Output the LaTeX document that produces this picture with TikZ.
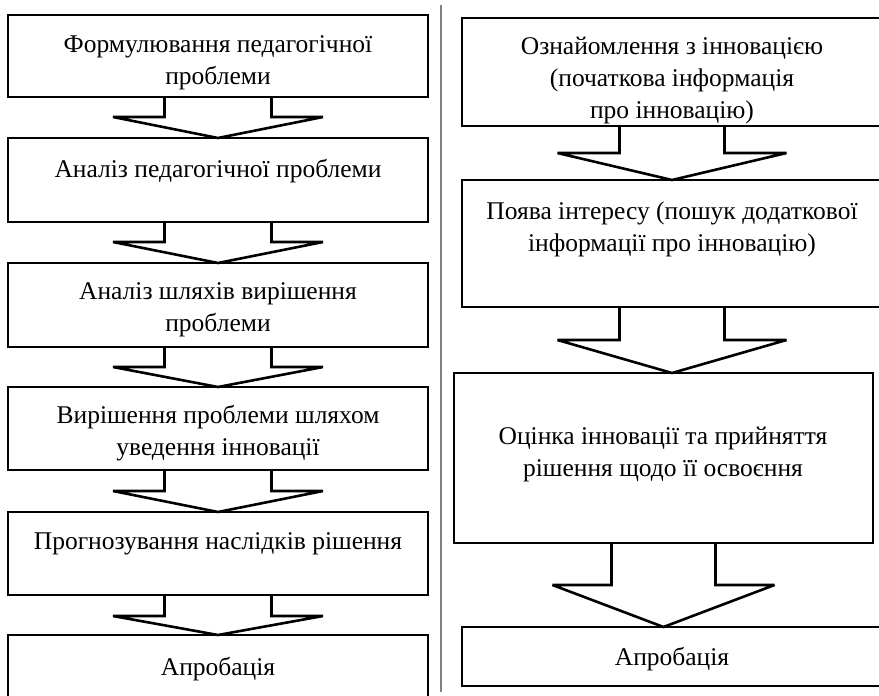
\documentclass[tikz,border=0pt]{standalone}
\usepackage{fontspec}
\setmainfont{Liberation Serif}
\usetikzlibrary{calc}
\tikzset{
  box/.style={draw=black, line width=2.6pt, rectangle, inner sep=0pt, outer sep=0pt, minimum width=420pt},
  arr/.style={draw=black, line width=2.6pt, line join=miter, miter limit=4},
  txt/.style={align=center, inner sep=0pt, font=\fontsize{25.5pt}{32pt}\selectfont},
  divider/.style={draw=black!50, line width=1.5pt}
}
\newcommand{\blockarrow}[5]{%
  \draw[arr] ($(#1.south)+(-#3,0)$) -- ++(0,#5) -- ++(-#4,0)
    -- (#1.south |- #2.north) -- ($(#1.south)+(#3+#4,#5)$) -- ++(-#4,0) -- ($(#1.south)+(#3,0)$);}
\begin{document}
\begin{tikzpicture}[x=1pt,y=-1pt]
\path[use as bounding box, clip] (0,0) rectangle (879,696);
\fill[white] (0,0) rectangle (879,696);
% divider
\coordinate (dtop) at (441,5);
\coordinate (dbot) at (441,692);
\draw[divider] (dtop) -- (dbot);
% left column
\node[box, minimum height=82pt] (l1) at (218,56) {};
\node[box, minimum height=84pt] (l2) at (218,180) {};
\node[box, minimum height=84pt] (l3) at (218,305) {};
\node[box, minimum height=83pt] (l4) at (218,428.5) {};
\node[box, minimum height=83pt] (l5) at (218,553.5) {};
\node[box, minimum height=83pt] (l6) at (218,676.5) {};
\node[txt] (t1) at (218,63) {Формулювання педагогічної\\проблеми};
\node[txt] (t2) at (218,171) {Аналіз педагогічної проблеми};
\node[txt] (t3) at (218,310) {Аналіз шляхів вирішення\\проблеми};
\node[txt] (t4) at (218,433) {Вирішення проблеми шляхом\\уведення інновації};
\node[txt] (t5) at (218,544) {Прогнозування наслідків рішення};
\node[txt] (t6) at (218,669) {Апробація};
\blockarrow{l1}{l2}{53.5}{51.5}{20}
\blockarrow{l2}{l3}{53.5}{51.5}{20}
\blockarrow{l3}{l4}{53.5}{51.5}{20}
\blockarrow{l4}{l5}{53.5}{51.5}{21}
\blockarrow{l5}{l6}{53.5}{51.5}{21}
% right column
\node[box, minimum height=108pt] (r1) at (672,72) {};
\node[box, minimum height=127pt] (r2) at (672,243.5) {};
\node[box, minimum height=170pt, minimum width=419pt] (r3) at (663.5,458) {};
\node[box, minimum height=59pt] (r4) at (672,656.5) {};
\node[txt] (s1) at (672,80.5) {Ознайомлення з інновацією\\(початкова інформація\\про інновацію)};
\node[txt] (s2) at (672,229.5) {Поява інтересу (пошук додаткової\\інформації про інновацію)};
\node[txt] (s3) at (663,454) {Оцінка інновації та прийняття\\рішення щодо її освоєння};
\node[txt] (s4) at (672,659) {Апробація};
\blockarrow{r1}{r2}{52.5}{62}{27}
\blockarrow{r2}{r3}{52.5}{62}{33}
\blockarrow{r3}{r4}{52}{59}{42}
\end{tikzpicture}
\end{document}
